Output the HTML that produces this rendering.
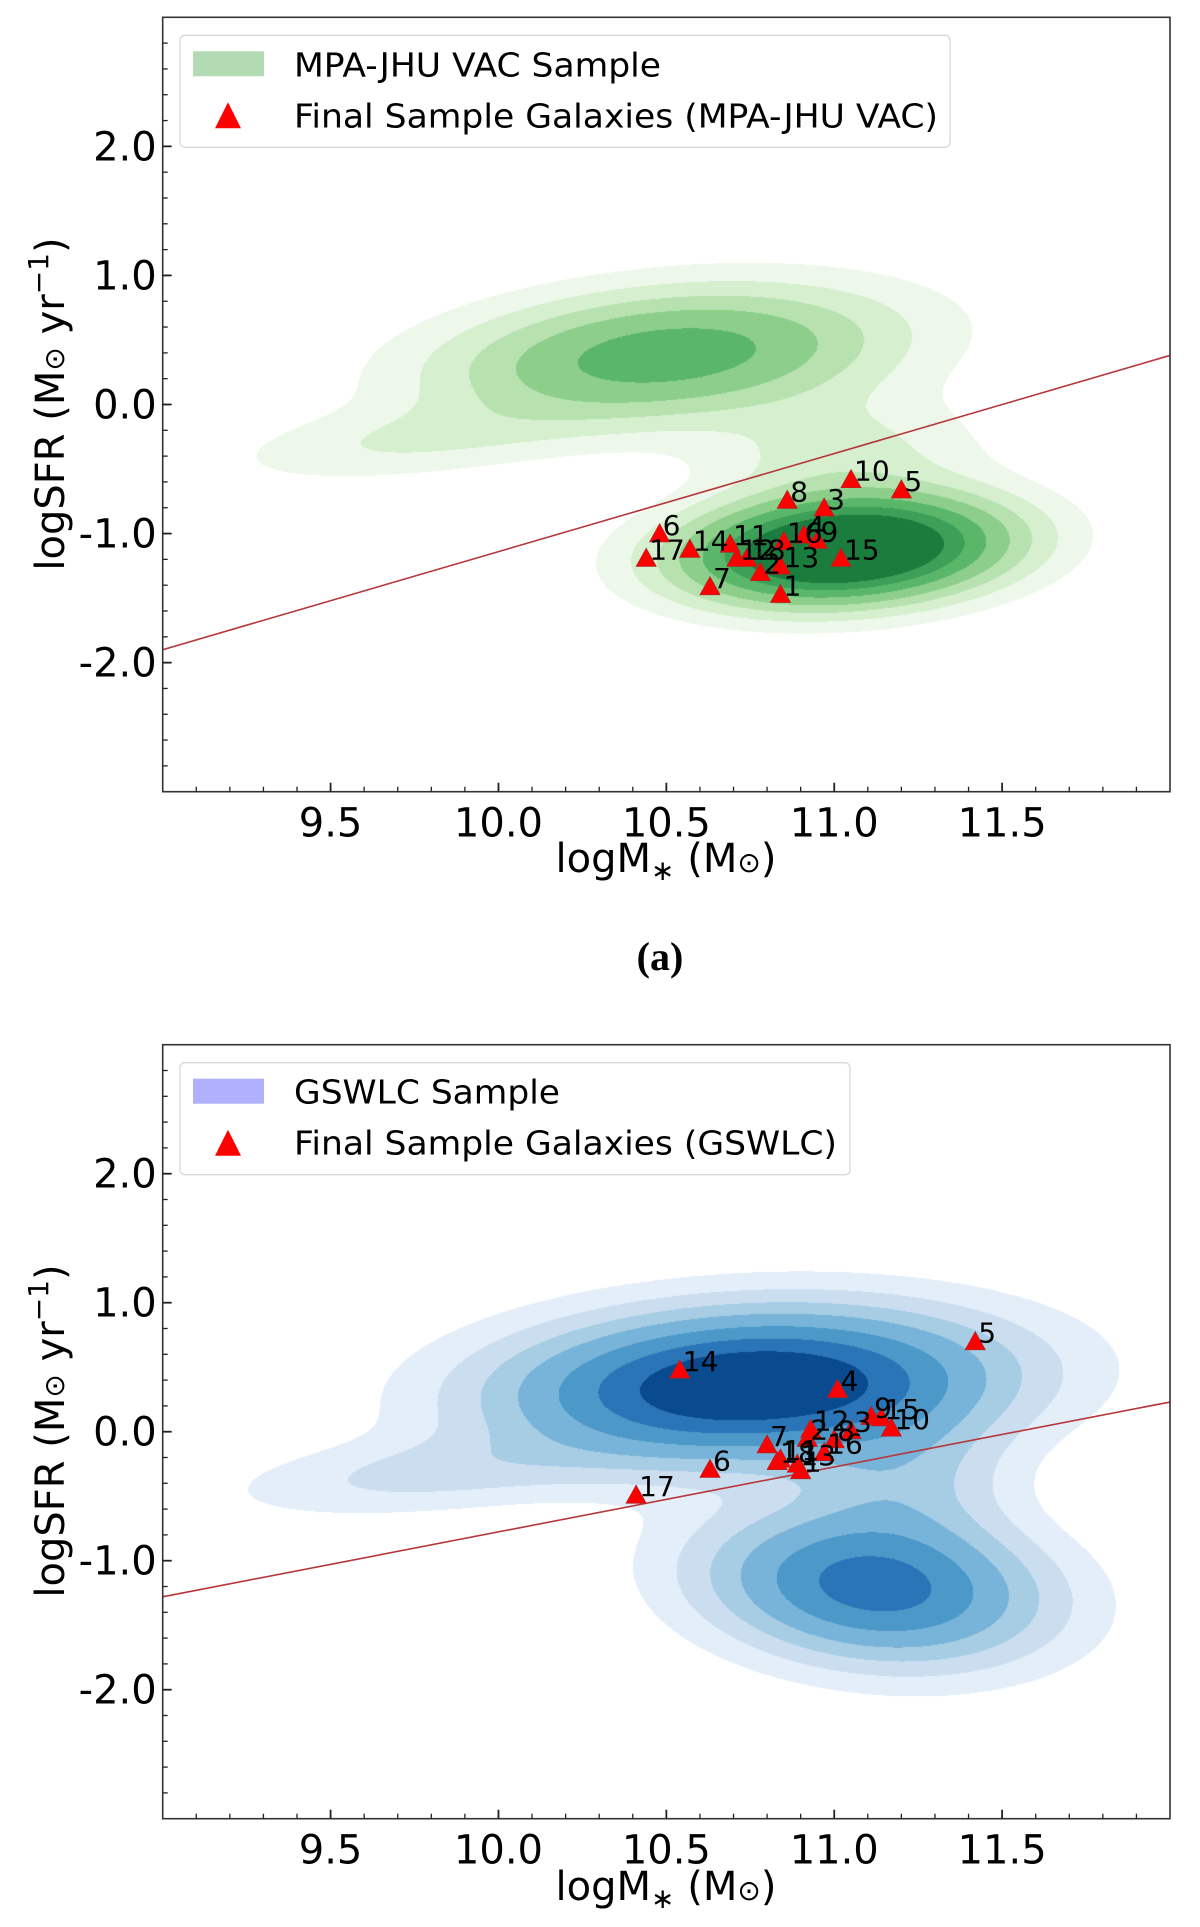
<!DOCTYPE html>
<html><head><meta charset="utf-8">
<style>
html,body{margin:0;padding:0;background:#fff;}
#wrap{position:relative;width:1200px;height:1927px;overflow:hidden;}
canvas{position:absolute;}
svg{position:absolute;left:0;top:0;}
text{font-family:"DejaVu Sans","Liberation Sans",sans-serif;}
</style></head>
<body>
<div id="wrap">
<canvas id="cvA"></canvas>
<canvas id="cvB"></canvas>
<svg id="svg" width="1200" height="1927" xmlns="http://www.w3.org/2000/svg"></svg>
</div>
<script>
// ---- data ----
const xTicks = [9.5, 10.0, 10.5, 11.0, 11.5];
const xTickLabels = ["9.5", "10.0", "10.5", "11.0", "11.5"];
const yTicks = [2, 1, 0, -1, -2];
const yTickLabels = ["2.0", "1.0", "0.0", "-1.0", "-2.0"];

const idsA = [1,2,3,4,5,6,7,8,9,10,11,12,13,14,15,16,17,18];
const massA = [10.84,10.78,10.97,10.91,11.20,10.48,10.63,10.86,10.95,11.05,10.69,10.71,10.84,10.57,11.02,10.85,10.44,10.74];
const sfrA  = [-1.48,-1.31,-0.81,-1.02,-0.67,-1.01,-1.42,-0.75,-1.06,-0.59,-1.09,-1.20,-1.26,-1.13,-1.20,-1.07,-1.20,-1.20];

const idsB = [1,2,3,4,5,6,7,8,9,10,11,12,13,14,15,16,17,18];
const massB = [10.90,10.92,11.05,11.01,11.42,10.63,10.80,11.00,11.11,11.17,10.84,10.93,10.89,10.54,11.14,10.97,10.41,10.83];
const sfrB  = [-0.31,-0.06,0.00,0.32,0.69,-0.30,-0.11,-0.07,0.11,0.02,-0.22,0.01,-0.26,0.47,0.10,-0.17,-0.50,-0.24];

const lineA = [[9.0,-1.90],[12.0,0.38]];
const lineB = [[9.0,-1.28],[12.0,0.23]];

// density model components: [cx, cy, sx, sy, angle, amp]
const compA = [[11.03,-1.13,0.29,0.235,0.45,1.3],[10.50,0.38,0.42,0.29,0.42,0.52],[9.75,-0.28,0.36,0.17,0.35,0.10],[11.02,-0.40,0.26,0.32,0,0.13]];
const compB = [[10.75,0.36,0.44,0.34,0.28,1.0],[9.8,-0.32,0.38,0.18,0.3,0.12],[11.12,-1.20,0.29,0.37,0.4,0.66],[11.2,-0.35,0.20,0.40,0,0.18]];
const levels = [0.04,0.10,0.18,0.28,0.42,0.58,0.75];
const greens = ['#edf8ea','#d5efcf','#b7e2b0','#8dcf8a','#5ab769','#3da058','#1a7d3e'];
const blues  = ['#e4eef9','#cbdef0','#a6cde4','#78b4d9','#4b98c9','#2a75b7','#0a4a8f'];

// ---- layout ----
const X0=162.7, X1=1170, XMIN=9, XMAX=12;
const panels=[{top:17.3,bottom:791.7},{top:1044.7,bottom:1818.7}];
const NS="http://www.w3.org/2000/svg";
const svg=document.getElementById('svg');
function sx(v){return X0+(v-XMIN)/(XMAX-XMIN)*(X1-X0);}
function syf(p){return v=>p.top+(3-v)/6*(p.bottom-p.top);}
function mk(tag,attrs,parent){const e=document.createElementNS(NS,tag);for(const k in attrs)e.setAttribute(k,attrs[k]);(parent||svg).appendChild(e);return e;}

function density(comps,x,y){let s=0;for(const c of comps){const dx=x-c[0],dy=y-c[1];const ca=Math.cos(c[4]),sa=Math.sin(c[4]);const u=dx*ca+dy*sa,v=-dx*sa+dy*ca;s+=c[5]*Math.exp(-0.5*(u*u/(c[2]*c[2])+v*v/(c[3]*c[3])));}return s;}
function hex(h){return [parseInt(h.slice(1,3),16),parseInt(h.slice(3,5),16),parseInt(h.slice(5,7),16)];}

function drawDensity(id,p,comps,cols){
  const cv=document.getElementById(id);
  const W=Math.round(X1-X0),H=Math.round(p.bottom-p.top);
  cv.width=W;cv.height=H;cv.style.left=X0+'px';cv.style.top=p.top+'px';
  const ctx=cv.getContext('2d');const img=ctx.createImageData(W,H);const rgb=cols.map(hex);
  for(let j=0;j<H;j++){const y=3-(j+0.5)/H*6;for(let i=0;i<W;i++){const x=XMIN+(i+0.5)/W*3;const d=density(comps,x,y);let L=-1;for(let k=0;k<levels.length;k++)if(d>=levels[k])L=k;const o=(j*W+i)*4;if(L>=0){img.data[o]=rgb[L][0];img.data[o+1]=rgb[L][1];img.data[o+2]=rgb[L][2];img.data[o+3]=255;}}}
  ctx.putImageData(img,0,0);
}

function drawPanel(pi,p,ids,mass,sfr,line,legendTitle,legend2,swatch,legW,t1W,t2W,xlabelY,ylabelY){
  const sy=syf(p);
  const g=mk('g',{});
  
  
  const ln=mk('line',{x1:sx(line[0][0]),y1:sy(line[0][1]),x2:sx(line[1][0]),y2:sy(line[1][1]),stroke:'#b5373a','stroke-width':1.6},g);
  
  
  for(let i=0;i<ids.length;i++){
    const cx=sx(mass[i]),cy=sy(sfr[i]);
    const t=mk('polygon',{points:`${cx},${cy-11} ${cx-10},${cy+7} ${cx+10},${cy+7}`,fill:'#ff0000',stroke:'#b22222','stroke-width':0.8},g);
    
    
  }
  for(let i=0;i<ids.length;i++){
    const cx=sx(mass[i]),cy=sy(sfr[i]);
    const l=mk('text',{x:cx+3,y:cy,'font-size':28,fill:'#000'},g);l.textContent=ids[i];
    
    
  }
  const fr=mk('rect',{x:X0,y:p.top,width:X1-X0,height:p.bottom-p.top,fill:'none',stroke:'#333','stroke-width':1.6},g);
  
  
  for(let v=9.1;v<11.95;v+=0.1){const x=sx(v);mk('line',{x1:x,y1:p.bottom,x2:x,y2:p.bottom-5,stroke:'#222','stroke-width':1.3},g);}
  xTicks.forEach((v,i)=>{const x=sx(v);mk('line',{x1:x,y1:p.bottom,x2:x,y2:p.bottom-9,stroke:'#222','stroke-width':1.8},g);
    const t=mk('text',{x:x,y:p.bottom+45,'font-size':40,'text-anchor':'middle'},g);t.textContent=xTickLabels[i];
    
    });
  for(let v=-2.8;v<2.95;v+=0.2){const y=sy(v);mk('line',{x1:X0,y1:y,x2:X0+5,y2:y,stroke:'#222','stroke-width':1.3},g);}
  yTicks.forEach((v,i)=>{const y=sy(v);mk('line',{x1:X0,y1:y,x2:X0+9,y2:y,stroke:'#222','stroke-width':1.8},g);
    const t=mk('text',{x:X0-6,y:y+14,'font-size':40,'text-anchor':'end'},g);t.textContent=yTickLabels[i];
    
    });
  const xl=mk('text',{x:666,y:xlabelY,'font-size':40,'text-anchor':'middle'},g);
  xl.innerHTML='logM<tspan font-size="28" dy="8">∗</tspan><tspan dy="-8"> (M</tspan><tspan font-size="28">⊙</tspan>)';
  
  
  const yl=mk('text',{x:0,y:0,'font-size':40,'text-anchor':'middle',transform:`translate(64,${ylabelY}) rotate(-90)`},g);
  yl.innerHTML='logSFR (M<tspan font-size="28">⊙</tspan> yr<tspan font-size="28" dy="-16">−1</tspan><tspan dy="16">)</tspan>';
  
  
  const lg=mk('g',{},g);
  
  
  const top=p.top+18;
  mk('rect',{x:180,y:top,width:legW,height:112,rx:5,fill:'#fff','fill-opacity':0.85,stroke:'#d8d8d8','stroke-width':1.3},lg);
  const sw=mk('rect',{x:193,y:top+16,width:71,height:25,fill:swatch},lg);
  
  
  const t1=mk('text',{x:294,y:top+41,'font-size':33,textLength:t1W,lengthAdjust:'spacingAndGlyphs'},lg);t1.textContent=legendTitle;
  
  
  const mx=228,my=top+83;
  mk('polygon',{points:`${mx},${my-16} ${mx-13},${my+10} ${mx+13},${my+10}`,fill:'#ff0000'},lg);
  const t2=mk('text',{x:294,y:top+92,'font-size':33,textLength:t2W,lengthAdjust:'spacingAndGlyphs'},lg);t2.textContent=legend2;
  
  
}

drawDensity('cvA',panels[0],compA,greens);
drawDensity('cvB',panels[1],compB,blues);
drawPanel(0,panels[0],idsA,massA,sfrA,lineA,'MPA-JHU VAC Sample','Final Sample Galaxies (MPA-JHU VAC)','#b3dbb3',770,367,644,872,404);
drawPanel(1,panels[1],idsB,massB,sfrB,lineB,'GSWLC Sample','Final Sample Galaxies (GSWLC)','#b0b0ff',670,266,543,1900,1431);
const cap=mk('text',{x:660,y:970,'font-size':40,'font-weight':'bold','text-anchor':'middle',style:'font-family:"Liberation Serif",serif'});
cap.textContent='(a)';


</script>
</body></html>
